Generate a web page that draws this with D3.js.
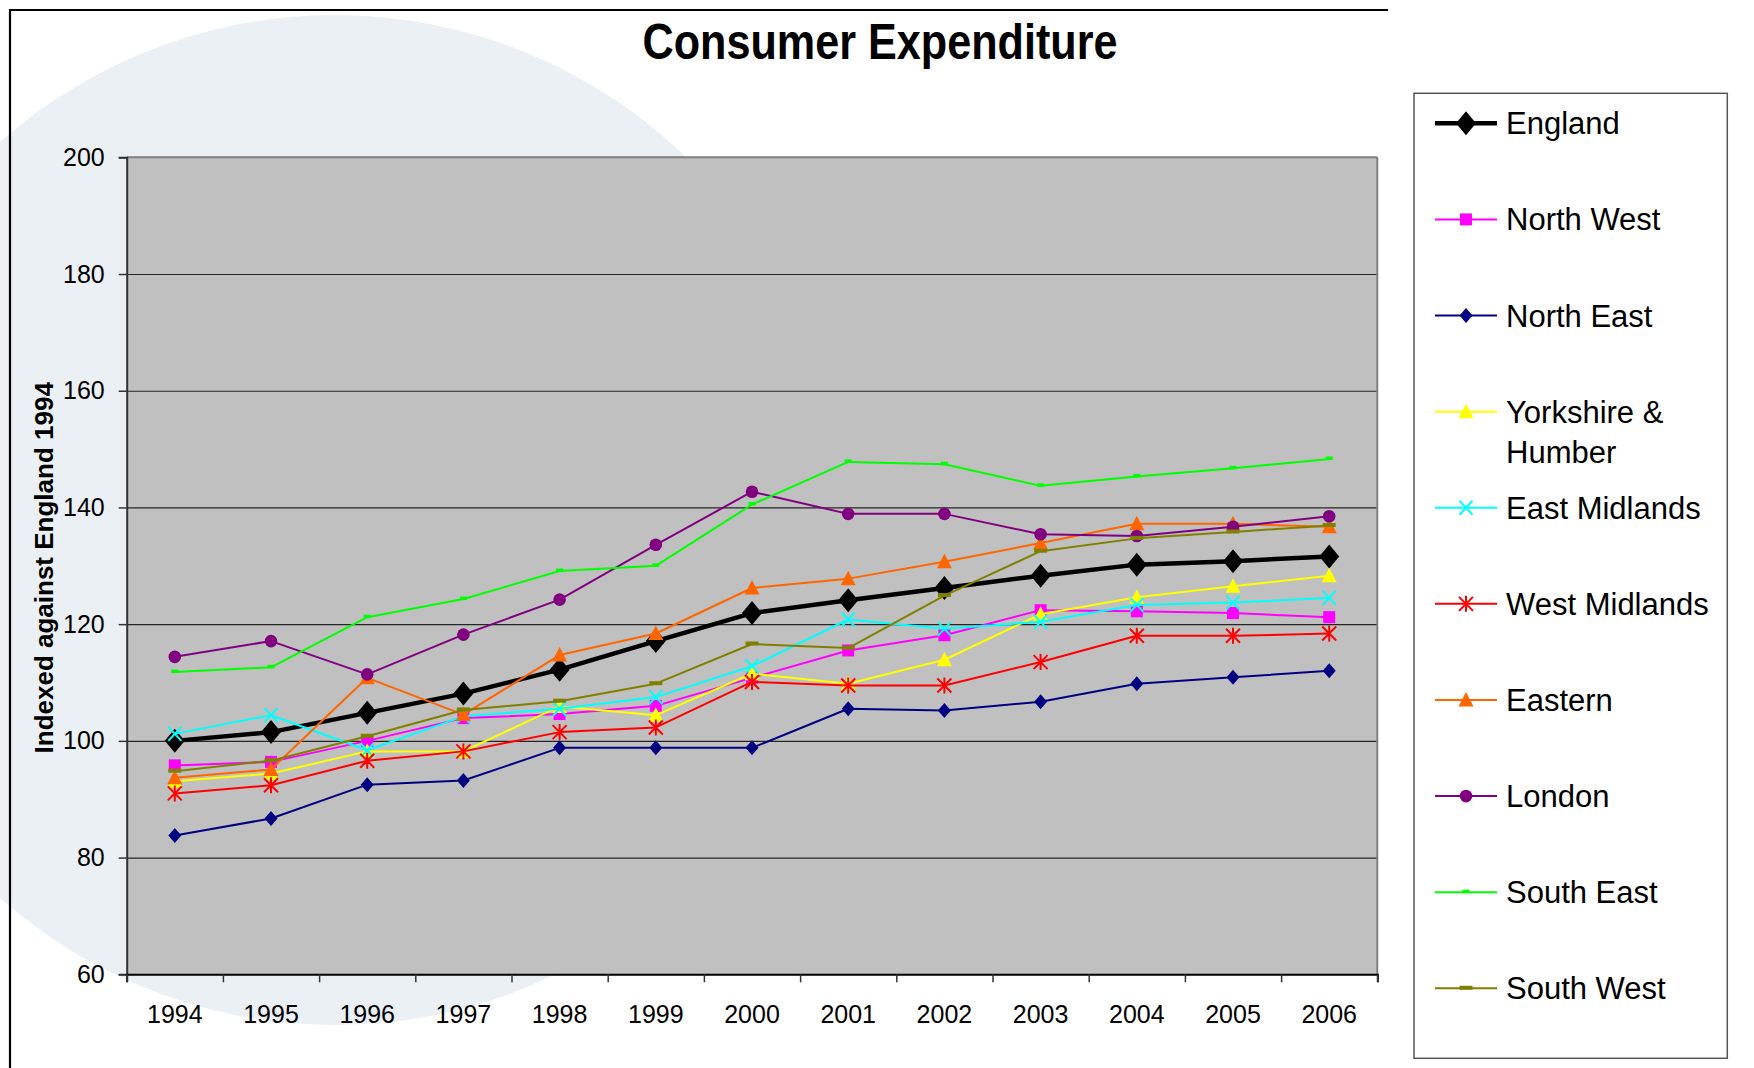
<!DOCTYPE html>
<html><head><meta charset="utf-8">
<script src="https://cdn.jsdelivr.net/npm/d3@7"></script>
<style>
html,body{margin:0;padding:0;background:#fff;}
svg{display:block;font-family:"Liberation Sans",Arial,sans-serif;}
</style></head>
<body>
<svg id="chart" width="1754" height="1068"></svg>
<script>
// ---------- data ----------
const years = ["1994","1995","1996","1997","1998","1999","2000","2001","2002","2003","2004","2005","2006"];
const yTicks = [60, 80, 100, 120, 140, 160, 180, 200];
const england      = [100.0, 101.5, 104.8, 108.1, 112.2, 117.1, 121.9, 124.1, 126.2, 128.3, 130.2, 130.8, 131.6];
const northWest    = [95.8, 96.4, 100.0, 103.9, 104.6, 106.0, 110.8, 115.5, 118.1, 122.4, 122.2, 121.9, 121.2];
const northEast    = [83.8, 86.7, 92.5, 93.2, 98.8, 98.8, 98.8, 105.5, 105.2, 106.7, 109.8, 110.9, 112.0];
const yorkshire    = [93.1, 94.4, 98.2, 98.2, 105.9, 104.4, 111.5, 109.8, 113.9, 121.7, 124.6, 126.5, 128.3];
const eastMidlands = [101.2, 104.4, 98.4, 104.2, 105.5, 107.5, 112.8, 120.8, 119.2, 120.4, 123.3, 123.7, 124.5];
const westMidlands = [91.0, 92.4, 96.6, 98.2, 101.5, 102.3, 110.1, 109.5, 109.5, 113.5, 118.0, 118.0, 118.4];
const eastern      = [93.7, 95.1, 110.8, 104.5, 114.7, 118.4, 126.2, 127.8, 130.7, 133.9, 137.2, 137.2, 136.7];
const london       = [114.4, 117.1, 111.4, 118.2, 124.2, 133.6, 142.7, 138.9, 138.9, 135.4, 135.1, 136.7, 138.5];
const southEast    = [111.8, 112.6, 121.2, 124.3, 129.1, 130.0, 140.5, 147.8, 147.4, 143.7, 145.3, 146.7, 148.3];
const southWest    = [94.8, 96.6, 100.8, 105.3, 106.8, 109.8, 116.6, 115.9, 124.9, 132.5, 134.7, 135.8, 136.9];
const seriesNames  = ["England","North West","North East","Yorkshire & Humber","East Midlands","West Midlands","Eastern","London","South East","South West"];
const seriesValues = [england, northWest, northEast, yorkshire, eastMidlands, westMidlands, eastern, london, southEast, southWest];
const seriesColors = ["#000000","#FF00FF","#000080","#FFFF00","#00FFFF","#FF0000","#FF6600","#800080","#00FF00","#808000"];
const seriesMarkers = ["bigDiamond","square","diamond","triangle","x","asterisk","triangle","circle","smallBar","bar"];

// ---------- layout ----------
const svg = d3.select("#chart");
const P = {left:126.7, right:1377.3, top:157.3, bottom:974.3};

// background decoration
svg.append("circle").attr("cx",335).attr("cy",520).attr("r",505).attr("fill","#EBF0F5");

// frame lines
svg.append("line").attr("x1",10).attr("x2",10).attr("y1",9).attr("y2",1068).attr("stroke","#000").attr("stroke-width",2.2);
svg.append("line").attr("x1",9).attr("x2",1388).attr("y1",10).attr("y2",10).attr("stroke","#000").attr("stroke-width",2.2);

// title
svg.append("text").attr("x",880).attr("y",59).attr("text-anchor","middle")
  .attr("font-size",50).attr("font-weight","bold").attr("textLength",475).attr("lengthAdjust","spacingAndGlyphs")
  .text("Consumer Expenditure");

// scales
const x = d3.scaleBand().domain(years).range([P.left, P.right]);
const xb = d3.scaleLinear().domain([0, years.length]).range([P.left, P.right]);
const y = d3.scaleLinear().domain([60, 200]).range([P.bottom, P.top]);
const cx = d => x(d) + x.bandwidth()/2;

// plot area
svg.append("rect").attr("x",P.left).attr("y",P.top).attr("width",P.right-P.left).attr("height",P.bottom-P.top).attr("fill","#C0C0C0");

// gridlines
const grid = svg.append("g").attr("transform",`translate(${P.left},0)`)
  .call(d3.axisLeft(y).tickValues(yTicks.filter(v => v>60 && v<200)).tickSize(-(P.right-P.left)).tickFormat(""));
grid.select(".domain").remove();
grid.selectAll("line").attr("stroke","#262626").attr("stroke-width",1.2);

// plot border top/right
svg.append("line").attr("x1",P.left).attr("x2",P.right).attr("y1",P.top).attr("y2",P.top).attr("stroke","#7f7f7f").attr("stroke-width",2);
svg.append("line").attr("x1",P.right).attr("x2",P.right).attr("y1",P.top).attr("y2",P.bottom).attr("stroke","#7f7f7f").attr("stroke-width",2);

// y axis
const ya = svg.append("g").attr("transform",`translate(${P.left},0)`)
  .call(d3.axisLeft(y).tickValues(yTicks).tickSize(8).tickPadding(14));
ya.select(".domain").attr("stroke","#333").attr("stroke-width",2);
ya.selectAll("line").attr("stroke","#333").attr("stroke-width",1.5);
ya.selectAll("text").attr("font-size",25).attr("fill","#000").attr("font-family","Liberation Sans, Arial, sans-serif");

// x axis boundary ticks
const xt = svg.append("g").attr("transform",`translate(0,${P.bottom})`)
  .call(d3.axisBottom(xb).tickValues(d3.range(years.length+1)).tickSize(8).tickFormat(""));
xt.select(".domain").attr("stroke","#000").attr("stroke-width",2);
xt.selectAll("line").attr("stroke","#333").attr("stroke-width",1.5);
// x labels
const xl = svg.append("g").attr("transform",`translate(0,${P.bottom})`)
  .call(d3.axisBottom(x).tickSize(0).tickPadding(31));
xl.select(".domain").remove();
xl.selectAll("text").attr("font-size",25).attr("fill","#000").attr("font-family","Liberation Sans, Arial, sans-serif");

// y axis title
svg.append("text").attr("transform",`translate(53,${(P.top+P.bottom)/2+2}) rotate(-90)`)
  .attr("text-anchor","middle").attr("font-size",26).attr("font-weight","bold")
  .text("Indexed against England 1994");

// marker drawing
function drawMarker(g, type, color, px, py) {
  switch(type) {
    case "bigDiamond":
      g.append("path").attr("d",`M${px},${py-12}L${px+10},${py}L${px},${py+12}L${px-10},${py}Z`).attr("fill",color); break;
    case "diamond":
      g.append("path").attr("d",`M${px},${py-7.5}L${px+6.5},${py}L${px},${py+7.5}L${px-6.5},${py}Z`).attr("fill",color); break;
    case "square":
      g.append("rect").attr("x",px-6).attr("y",py-6).attr("width",12).attr("height",12).attr("fill",color); break;
    case "triangle":
      g.append("path").attr("d",`M${px},${py-8}L${px+7.5},${py+6.5}L${px-7.5},${py+6.5}Z`).attr("fill",color); break;
    case "x":
      g.append("path").attr("d",`M${px-6.5},${py-7}L${px+6.5},${py+7}M${px+6.5},${py-7}L${px-6.5},${py+7}`).attr("stroke",color).attr("stroke-width",2).attr("fill","none"); break;
    case "asterisk":
      g.append("path").attr("d",`M${px-7},${py-7}L${px+7},${py+7}M${px+7},${py-7}L${px-7},${py+7}M${px},${py-8}L${px},${py+8}`).attr("stroke",color).attr("stroke-width",2).attr("fill","none"); break;
    case "circle":
      g.append("circle").attr("cx",px).attr("cy",py).attr("r",6.3).attr("fill",color); break;
    case "smallBar":
      g.append("rect").attr("x",px-3.5).attr("y",py-2.5).attr("width",7).attr("height",3.5).attr("fill",color); break;
    case "bar":
      g.append("rect").attr("x",px-6.5).attr("y",py-2.5).attr("width",13).attr("height",4).attr("fill",color); break;
  }
}

// series
const line = d3.line().x((d,i) => cx(years[i])).y(d => y(d));
seriesValues.forEach((vals, k) => {
  const g = svg.append("g");
  g.append("path").datum(vals).attr("d", line).attr("fill","none")
    .attr("stroke", seriesColors[k]).attr("stroke-width", k===0 ? 4.5 : 2).attr("stroke-linejoin","round");
  vals.forEach((v,i) => drawMarker(g, seriesMarkers[k], seriesColors[k], cx(years[i]), y(v)));
});

// legend
svg.append("rect").attr("x",1414).attr("y",93.3).attr("width",313.3).attr("height",965).attr("fill","#fff").attr("stroke","#555").attr("stroke-width",1.5);
const legendY = d3.scaleLinear().domain([0, 9]).range([123.3, 988.3]);
seriesNames.forEach((name, k) => {
  const ly = legendY(k);
  const g = svg.append("g");
  g.append("line").attr("x1",1435).attr("x2",1497).attr("y1",ly).attr("y2",ly)
    .attr("stroke",seriesColors[k]).attr("stroke-width", k===0 ? 4.5 : 2);
  drawMarker(g, seriesMarkers[k], seriesColors[k], 1466, ly);
  const t = g.append("text").attr("x",1506).attr("y",ly+11).attr("font-size",31).attr("fill","#000");
  if (name === "Yorkshire & Humber") {
    t.append("tspan").attr("x",1506).text("Yorkshire &");
    t.append("tspan").attr("x",1506).attr("dy",40).text("Humber");
  } else {
    t.text(name);
  }
});
</script>
</body></html>
